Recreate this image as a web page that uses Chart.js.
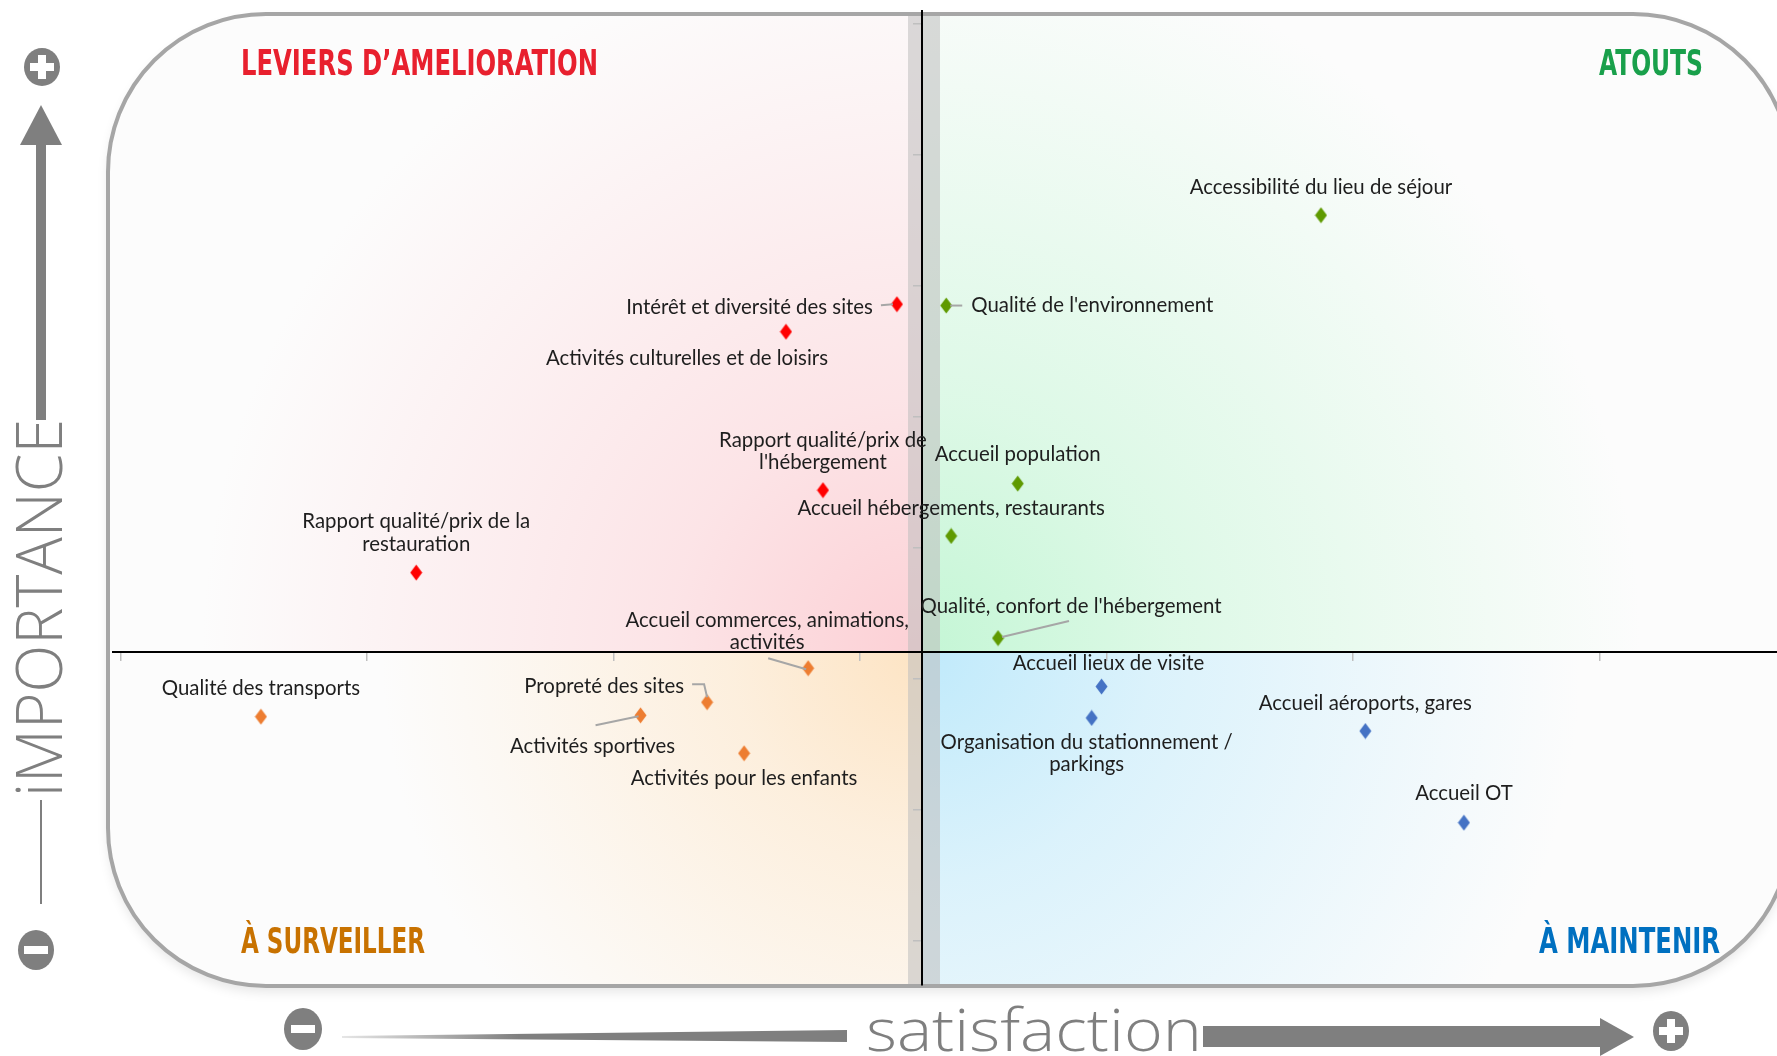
<!DOCTYPE html>
<html lang="fr">
<head>
  <meta charset="UTF-8" />
  <title>Matrice importance / satisfaction</title>
  <script src="https://cdn.jsdelivr.net/npm/chart.js"></script>
  <style>
    html, body { margin: 0; padding: 0; background: #fff; }
    canvas { display: block; }
  </style>
</head>
<body>

  <canvas id="matrix" width="1777" height="1056"></canvas>

  <script>
    // satisfaction (x) and importance (y), in axis tick units
    const leviersLabels = ["Intérêt et diversité des sites", "Activités culturelles et de loisirs",
                           "Rapport qualité/prix de\nl'hébergement", "Rapport qualité/prix de la\nrestauration"];
    const leviersX = [3.15, 2.70, 2.85, 1.20];
    const leviersY = [4.86, 4.65, 3.44, 2.81];

    const atoutsLabels = ["Accessibilité du lieu de séjour", "Qualité de l'environnement", "Accueil population",
                          "Accueil hébergements, restaurants", "Qualité, confort de l'hébergement"];
    const atoutsX = [4.87, 3.35, 3.64, 3.37, 3.56];
    const atoutsY = [5.54, 4.85, 3.49, 3.09, 2.31];

    const surveillerLabels = ["Accueil commerces, animations,\nactivités", "Propreté des sites", "Activités sportives",
                              "Qualité des transports", "Activités pour les enfants"];
    const surveillerX = [2.79, 2.38, 2.11, 0.57, 2.53];
    const surveillerY = [2.08, 1.82, 1.72, 1.71, 1.43];

    const maintenirLabels = ["Accueil lieux de visite", "Organisation du stationnement /\nparkings",
                             "Accueil aéroports, gares", "Accueil OT"];
    const maintenirX = [3.98, 3.94, 5.05, 5.45];
    const maintenirY = [1.94, 1.70, 1.60, 0.90];

    const quadrantTitles = ["LEVIERS D’AMELIORATION", "ATOUTS", "À SURVEILLER", "À MAINTENIR"];
    const xAxisTitle = "satisfaction";
    const yAxisTitle = "iMPORTANCE";

    // where the two axes cross, and the axis ranges
    const crossX = 3.25;
    const crossY = 2.2;
    const xMin = -0.03, xMax = 6.72;
    const yMin = -0.34, yMax = 7.1;

    // label placement per point: offset from the point, alignment, optional leader line
    const placements = [
      [ {dx: -24, dy: 3, align: 'right', lead: [[-16, 1], [-4, 0]]},
        {dx: -99, dy: 27},
        {dx: 0, dy: -50},
        {dx: 0, dy: -51} ],
      [ {dx: 0, dy: -28},
        {dx: 25, dy: 0, align: 'left', lead: [[4, 0], [16, 0]]},
        {dx: 0, dy: -29},
        {dx: 0, dy: -28},
        {dx: 73, dy: -32, lead: [[4, -1], [71, -17]]} ],
      [ {dx: -41, dy: -48, lead: [[-40, -10], [-2, 1]]},
        {dx: -23, dy: -16, align: 'right', lead: [[-15, -18], [-3, -18], [0, -5]]},
        {dx: -48, dy: 31, lead: [[-45, 10], [-2, 1]]},
        {dx: 0, dy: -28},
        {dx: 0, dy: 25} ],
      [ {dx: 7, dy: -23},
        {dx: -5, dy: 24},
        {dx: 0, dy: -28},
        {dx: 0, dy: -29} ]
    ];

    const GREY = '#7f7f7f';
    const FRAME = {x: 108, y: 14, w: 1683, h: 972, r: 158};

    function diamond(color) {
      const c = document.createElement('canvas');
      c.width = 13; c.height = 17;
      const g = c.getContext('2d');
      g.fillStyle = color;
      g.beginPath();
      g.moveTo(6.5, 0.5); g.lineTo(12.5, 8.5); g.lineTo(6.5, 16.5); g.lineTo(0.5, 8.5);
      g.closePath(); g.fill();
      return c;
    }

    function points(xs, ys) {
      return xs.map((x, i) => ({x: x, y: ys[i]}));
    }

    function framePath(ctx) {
      const {x, y, w, h, r} = FRAME;
      ctx.beginPath();
      ctx.moveTo(x + r, y);
      ctx.lineTo(x + w - r, y);
      ctx.arcTo(x + w, y, x + w, y + r, r);
      ctx.lineTo(x + w, y + h - r);
      ctx.arcTo(x + w, y + h, x + w - r, y + h, r);
      ctx.lineTo(x + r, y + h);
      ctx.arcTo(x, y + h, x, y + h - r, r);
      ctx.lineTo(x, y + r);
      ctx.arcTo(x, y, x + r, y, r);
      ctx.closePath();
    }

    function glow(ctx, rect, cx, cy, radius, rgb) {
      const g = ctx.createRadialGradient(cx, cy, 0, cx, cy, radius);
      g.addColorStop(0, 'rgba(' + rgb + ',1)');
      g.addColorStop(0.35, 'rgba(' + rgb + ',0.55)');
      g.addColorStop(1, 'rgba(' + rgb + ',0)');
      ctx.fillStyle = g;
      ctx.fillRect(rect[0], rect[1], rect[2], rect[3]);
    }

    // text squeezed/stretched horizontally to a given width
    function fitText(ctx, text, x, y, width, align) {
      const w = ctx.measureText(text).width;
      const sx = width / w;
      ctx.save();
      ctx.translate(align === 'right' ? x - width : x, y);
      ctx.scale(sx, 1);
      ctx.textAlign = 'left';
      ctx.fillText(text, 0, 0);
      ctx.restore();
    }

    function oval(ctx, cx, cy, rx, ry, plus) {
      ctx.fillStyle = GREY;
      ctx.beginPath();
      ctx.ellipse(cx, cy, rx, ry, 0, 0, Math.PI * 2);
      ctx.fill();
      ctx.fillStyle = '#fff';
      ctx.fillRect(cx - 12, cy - 4, 24, 8);
      if (plus) ctx.fillRect(cx - 4, cy - 12, 8, 24);
    }

    const backdrop = {
      id: 'backdrop',
      beforeDraw(chart) {
        const ctx = chart.ctx;
        const cx = chart.scales.x.getPixelForValue(crossX);
        const cy = chart.scales.y.getPixelForValue(crossY);
        const right = FRAME.x + FRAME.w, bottom = FRAME.y + FRAME.h;

        ctx.save();
        ctx.fillStyle = '#fff';
        ctx.fillRect(0, 0, chart.width, chart.height);

        // frame fill with soft shadow
        ctx.save();
        ctx.shadowColor = 'rgba(0,0,0,0.10)';
        ctx.shadowBlur = 12;
        ctx.shadowOffsetY = 6;
        framePath(ctx);
        ctx.fillStyle = '#fcfcfc';
        ctx.fill();
        ctx.restore();

        // quadrant colour glows
        ctx.save();
        framePath(ctx);
        ctx.clip();
        glow(ctx, [FRAME.x, FRAME.y, cx - FRAME.x, cy - FRAME.y], cx, cy, 720, '252,208,213');
        glow(ctx, [cx, FRAME.y, right - cx, cy - FRAME.y], cx, cy, 720, '196,246,213');
        glow(ctx, [FRAME.x, cy, cx - FRAME.x, bottom - cy], cx, cy, 540, '253,228,196');
        glow(ctx, [cx, cy, right - cx, bottom - cy], cx, cy, 660, '192,234,251');
        // grey band behind the vertical axis
        ctx.fillStyle = 'rgba(190,190,190,0.55)';
        ctx.fillRect(908, FRAME.y, 32, FRAME.h);
        ctx.restore();

        framePath(ctx);
        ctx.strokeStyle = '#a6a6a6';
        ctx.lineWidth = 4;
        ctx.stroke();

        // quadrant titles
        ctx.font = 'bold 36px "Liberation Sans Narrow", "DejaVu Sans Condensed", "Open Sans", sans-serif';
        ctx.textBaseline = 'alphabetic';
        ctx.fillStyle = '#e8202e';
        fitText(ctx, quadrantTitles[0], 241, 75, 357);
        ctx.fillStyle = '#19a04b';
        fitText(ctx, quadrantTitles[1], 1703, 75, 104, 'right');
        ctx.fillStyle = '#c87200';
        fitText(ctx, quadrantTitles[2], 241, 953, 184);
        ctx.fillStyle = '#0070c0';
        fitText(ctx, quadrantTitles[3], 1720, 953, 181, 'right');

        // vertical importance arrow
        oval(ctx, 42, 67, 18, 19, true);
        ctx.fillStyle = GREY;
        ctx.beginPath();
        ctx.moveTo(41, 105); ctx.lineTo(62, 145); ctx.lineTo(20, 145);
        ctx.closePath(); ctx.fill();
        ctx.fillRect(36, 144, 10, 276);
        ctx.fillRect(40, 800, 2, 104);
        oval(ctx, 36, 950, 18, 20, false);

        ctx.save();
        ctx.translate(62, 797);
        ctx.rotate(-Math.PI / 2);
        ctx.font = '300 64px "Open Sans", Lato, sans-serif';
        ctx.fillStyle = GREY;
        fitText(ctx, yAxisTitle, 0, 0, 378);
        ctx.restore();

        // horizontal satisfaction arrow
        oval(ctx, 303, 1029, 19, 21, false);
        const taper = ctx.createLinearGradient(342, 0, 847, 0);
        taper.addColorStop(0, '#e6e6e6');
        taper.addColorStop(0.35, GREY);
        taper.addColorStop(1, GREY);
        ctx.fillStyle = taper;
        ctx.beginPath();
        ctx.moveTo(342, 1036); ctx.lineTo(847, 1030); ctx.lineTo(847, 1042); ctx.lineTo(342, 1038);
        ctx.closePath(); ctx.fill();

        ctx.font = '300 58px "Open Sans", Lato, sans-serif';
        ctx.fillStyle = GREY;
        fitText(ctx, xAxisTitle, 866, 1051, 336);

        ctx.fillStyle = GREY;
        ctx.fillRect(1203, 1026, 400, 21);
        ctx.beginPath();
        ctx.moveTo(1600, 1018); ctx.lineTo(1634, 1037); ctx.lineTo(1600, 1056);
        ctx.closePath(); ctx.fill();
        oval(ctx, 1671, 1031, 18, 20, true);

        ctx.restore();
      }
    };

    const pointLabels = {
      id: 'pointLabels',
      afterDatasetsDraw(chart) {
        const ctx = chart.ctx;
        ctx.save();
        // size the label font so that a reference label has the width seen in the picture
        ctx.font = '20px Lato, "Open Sans", sans-serif';
        const size = 20 * 263 / ctx.measureText("Accessibilité du lieu de séjour").width;
        ctx.font = size.toFixed(1) + 'px Lato, "Open Sans", sans-serif';
        ctx.textBaseline = 'middle';
        chart.data.datasets.forEach((ds, i) => {
          const meta = chart.getDatasetMeta(i);
          meta.data.forEach((pt, j) => {
            const p = placements[i][j];
            if (p.lead) {
              ctx.strokeStyle = '#a6a6a6';
              ctx.lineWidth = 2;
              ctx.beginPath();
              p.lead.forEach((q, k) => {
                if (k === 0) ctx.moveTo(pt.x + q[0], pt.y + q[1]);
                else ctx.lineTo(pt.x + q[0], pt.y + q[1]);
              });
              ctx.stroke();
            }
            ctx.fillStyle = '#1e1e1e';
            ctx.textAlign = p.align || 'center';
            ds.names[j].split('\n').forEach((line, k) => {
              ctx.fillText(line, pt.x + p.dx, pt.y + p.dy + k * 22.5);
            });
          });
        });
        ctx.restore();
      }
    };

    function makeSet(labels, xs, ys, color) {
      return {
        names: labels,
        data: points(xs, ys),
        pointStyle: diamond(color),
        pointRadius: 7,
        pointHoverRadius: 7,
        showLine: false,
        clip: false
      };
    }

    new Chart(document.getElementById('matrix').getContext('2d'), {
      type: 'scatter',
      data: {
        datasets: [
          makeSet(leviersLabels, leviersX, leviersY, '#ff0000'),
          makeSet(atoutsLabels, atoutsX, atoutsY, '#5f9a00'),
          makeSet(surveillerLabels, surveillerX, surveillerY, '#ed7d31'),
          makeSet(maintenirLabels, maintenirX, maintenirY, '#4472c4')
        ]
      },
      options: {
        responsive: false,
        animation: false,
        layout: { autoPadding: false, padding: { left: 113, right: 0, top: 11, bottom: 71 } },
        plugins: {
          legend: { display: false },
          tooltip: { enabled: false }
        },
        scales: {
          x: {
            type: 'linear',
            min: xMin, max: xMax,
            position: { y: crossY },
            ticks: { display: false, stepSize: 1, includeBounds: false },
            grid: { drawOnChartArea: false, drawTicks: true, tickLength: 8, color: '#bfbfbf', lineWidth: 1.5 },
            border: { color: '#000', width: 2 },
            afterFit(scale) { scale.height = 0; }
          },
          y: {
            type: 'linear',
            min: yMin, max: yMax,
            position: { x: crossX },
            ticks: { display: false, stepSize: 1, includeBounds: false },
            grid: { drawOnChartArea: false, drawTicks: true, tickLength: 8, color: '#bfbfbf', lineWidth: 1.5 },
            border: { color: '#000', width: 2 },
            afterFit(scale) { scale.width = 0; }
          }
        }
      },
      plugins: [backdrop, pointLabels]
    });
  </script>

</body>
</html>
